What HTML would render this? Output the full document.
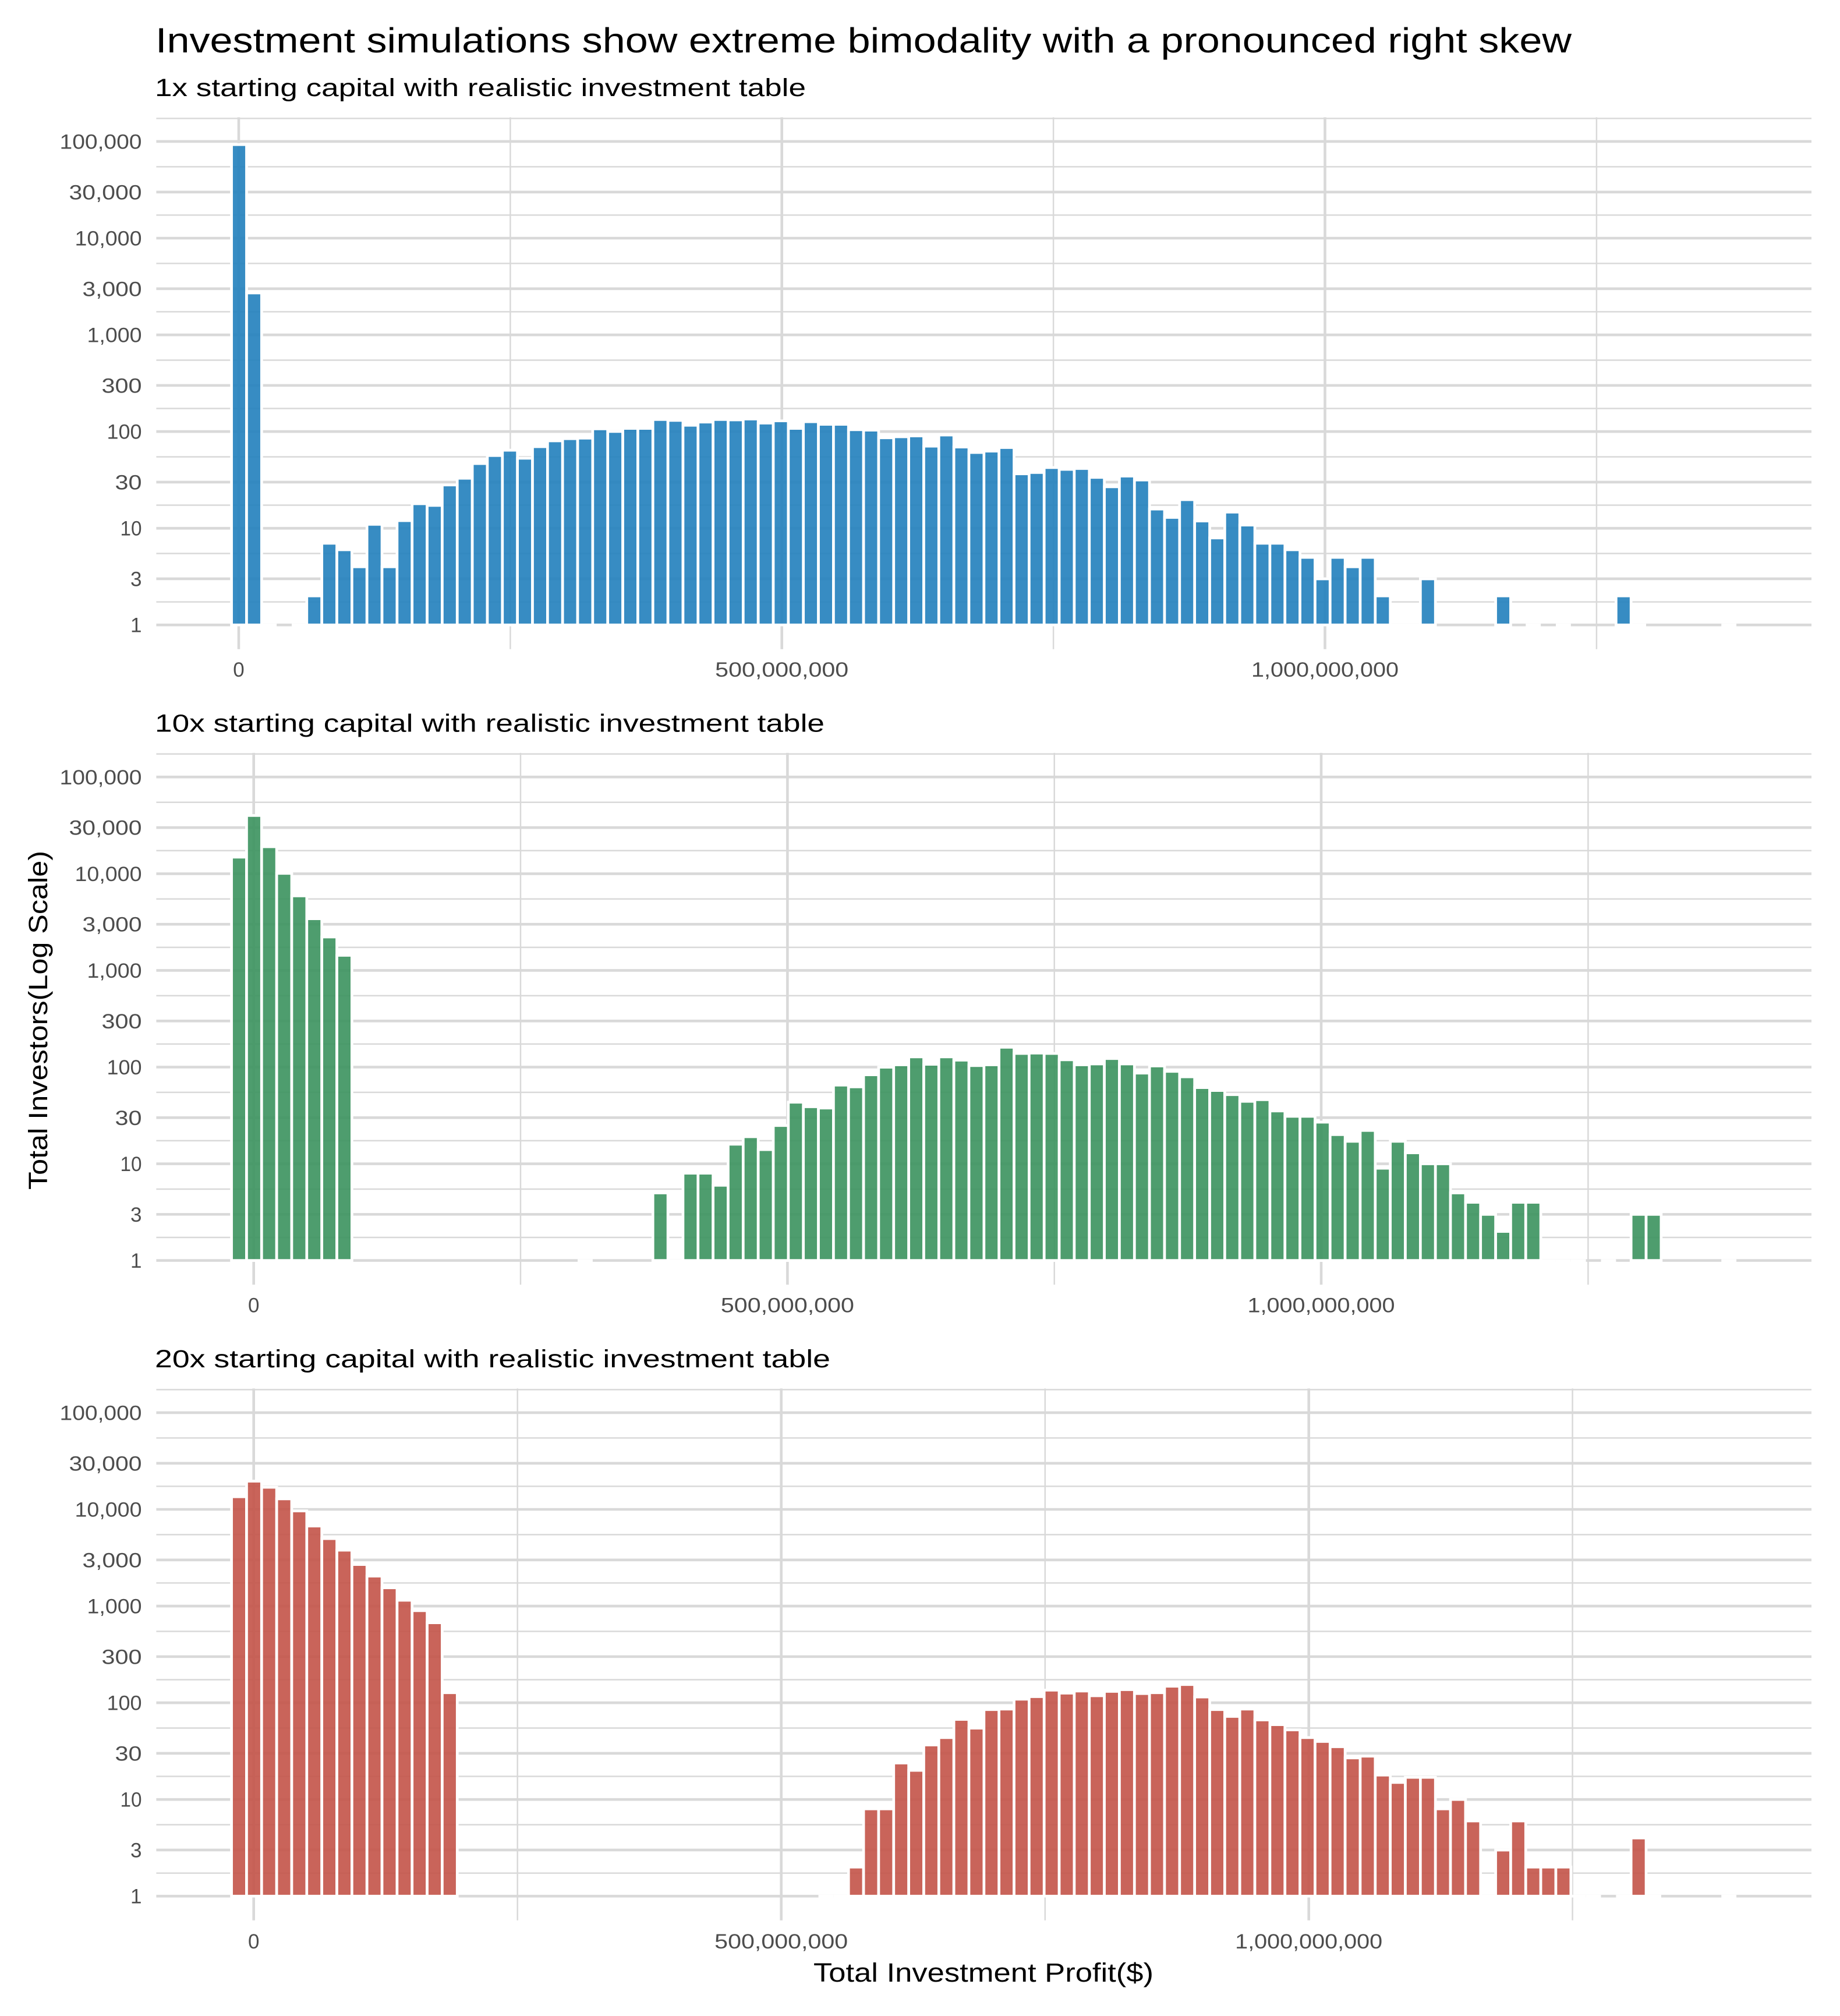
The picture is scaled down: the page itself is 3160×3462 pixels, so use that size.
<!DOCTYPE html>
<html><head><meta charset="utf-8"><style>
html,body{margin:0;padding:0;background:#fff;}
svg{display:block}
text{font-family:"Liberation Sans",Arial,sans-serif}
.tk{fill:#4d4d4d;font-size:35px}
.g line{stroke:#d9d9d9;vector-effect:non-scaling-stroke;stroke-linecap:butt}
.g line.mj{stroke-width:4.6}
.g line.mn{stroke-width:2.5}
.b rect,.b line{stroke:#fff;stroke-width:4.7;vector-effect:non-scaling-stroke}
</style></head><body>
<svg width="3160" height="3462" viewBox="0 0 3160 3462" xmlns="http://www.w3.org/2000/svg">
<rect width="3160" height="3462" fill="#fff"/>
<text x="267" y="90" font-size="60" fill="#000" textLength="2432" lengthAdjust="spacingAndGlyphs">Investment simulations show extreme bimodality with a pronounced right skew</text>

<!-- ================= PANEL 1 ================= -->
<g>
<text x="266" y="165" font-size="43" fill="#000" textLength="1118" lengthAdjust="spacingAndGlyphs">1x starting capital with realistic investment table</text>
<g class="g" transform="translate(0,1073.2) scale(1,-166.05)">
<line class="mn" x1="268.4" x2="3111" y1=".2386" y2=".2386"/><line class="mn" x1="268.4" x2="3111" y1=".7386" y2=".7386"/><line class="mn" x1="268.4" x2="3111" y1="1.2386" y2="1.2386"/><line class="mn" x1="268.4" x2="3111" y1="1.7386" y2="1.7386"/><line class="mn" x1="268.4" x2="3111" y1="2.2386" y2="2.2386"/><line class="mn" x1="268.4" x2="3111" y1="2.7386" y2="2.7386"/><line class="mn" x1="268.4" x2="3111" y1="3.2386" y2="3.2386"/><line class="mn" x1="268.4" x2="3111" y1="3.7386" y2="3.7386"/><line class="mn" x1="268.4" x2="3111" y1="4.2386" y2="4.2386"/><line class="mn" x1="268.4" x2="3111" y1="4.7386" y2="4.7386"/><line class="mn" x1="268.4" x2="3111" y1="5.2386" y2="5.2386"/>
<line class="mj" x1="268.4" x2="3111" y1="0" y2="0"/><line class="mj" x1="268.4" x2="3111" y1=".4771" y2=".4771"/><line class="mj" x1="268.4" x2="3111" y1="1" y2="1"/><line class="mj" x1="268.4" x2="3111" y1="1.4771" y2="1.4771"/><line class="mj" x1="268.4" x2="3111" y1="2" y2="2"/><line class="mj" x1="268.4" x2="3111" y1="2.4771" y2="2.4771"/><line class="mj" x1="268.4" x2="3111" y1="3" y2="3"/><line class="mj" x1="268.4" x2="3111" y1="3.4771" y2="3.4771"/><line class="mj" x1="268.4" x2="3111" y1="4" y2="4"/><line class="mj" x1="268.4" x2="3111" y1="4.4771" y2="4.4771"/><line class="mj" x1="268.4" x2="3111" y1="5" y2="5"/>
<line class="mn" x1="876.4" x2="876.4" y1="-0.25" y2="5.25"/><line class="mn" x1="1809.1" x2="1809.1" y1="-0.25" y2="5.25"/><line class="mn" x1="2741.9" x2="2741.9" y1="-0.25" y2="5.25"/>
<line class="mj" x1="410" x2="410" y1="-0.25" y2="5.25"/><line class="mj" x1="1342.7" x2="1342.7" y1="-0.25" y2="5.25"/><line class="mj" x1="2275.5" x2="2275.5" y1="-0.25" y2="5.25"/>
</g>
<g class="b" fill="#2180BC" fill-opacity="0.9" transform="translate(397.6,1073.2) scale(25.845,-166.05)">
<rect x="0" y="0" width="1" height="4.968"/><rect x="1" y="0" width="1" height="3.434"/>
<line x1="2" x2="3" y1="0" y2="0"/><line x1="4" x2="5" y1="0" y2="0"/>
<rect x="5" y="0" width="1" height="0.301"/><rect x="6" y="0" width="1" height="0.845"/><rect x="7" y="0" width="1" height="0.778"/><rect x="8" y="0" width="1" height="0.602"/><rect x="9" y="0" width="1" height="1.041"/><rect x="10" y="0" width="1" height="0.602"/><rect x="11" y="0" width="1" height="1.079"/><rect x="12" y="0" width="1" height="1.254"/><rect x="13" y="0" width="1" height="1.236"/><rect x="14" y="0" width="1" height="1.448"/><rect x="15" y="0" width="1" height="1.517"/><rect x="16" y="0" width="1" height="1.669"/><rect x="17" y="0" width="1" height="1.752"/><rect x="18" y="0" width="1" height="1.807"/><rect x="19" y="0" width="1" height="1.724"/><rect x="20" y="0" width="1" height="1.844"/><rect x="21" y="0" width="1" height="1.904"/><rect x="22" y="0" width="1" height="1.927"/><rect x="23" y="0" width="1" height="1.932"/><rect x="24" y="0" width="1" height="2.028"/><rect x="25" y="0" width="1" height="2.001"/><rect x="26" y="0" width="1" height="2.033"/><rect x="27" y="0" width="1" height="2.033"/><rect x="28" y="0" width="1" height="2.125"/><rect x="29" y="0" width="1" height="2.116"/><rect x="30" y="0" width="1" height="2.065"/><rect x="31" y="0" width="1" height="2.098"/><rect x="32" y="0" width="1" height="2.125"/><rect x="33" y="0" width="1" height="2.121"/><rect x="34" y="0" width="1" height="2.130"/><rect x="35" y="0" width="1" height="2.088"/><rect x="36" y="0" width="1" height="2.111"/><rect x="37" y="0" width="1" height="2.033"/><rect x="38" y="0" width="1" height="2.102"/><rect x="39" y="0" width="1" height="2.075"/><rect x="40" y="0" width="1" height="2.075"/><rect x="41" y="0" width="1" height="2.019"/><rect x="42" y="0" width="1" height="2.015"/><rect x="43" y="0" width="1" height="1.936"/><rect x="44" y="0" width="1" height="1.946"/><rect x="45" y="0" width="1" height="1.955"/><rect x="46" y="0" width="1" height="1.849"/><rect x="47" y="0" width="1" height="1.964"/><rect x="48" y="0" width="1" height="1.840"/><rect x="49" y="0" width="1" height="1.784"/><rect x="50" y="0" width="1" height="1.798"/><rect x="51" y="0" width="1" height="1.835"/><rect x="52" y="0" width="1" height="1.563"/><rect x="53" y="0" width="1" height="1.577"/><rect x="54" y="0" width="1" height="1.628"/><rect x="55" y="0" width="1" height="1.609"/><rect x="56" y="0" width="1" height="1.618"/><rect x="57" y="0" width="1" height="1.526"/><rect x="58" y="0" width="1" height="1.429"/><rect x="59" y="0" width="1" height="1.540"/><rect x="60" y="0" width="1" height="1.499"/><rect x="61" y="0" width="1" height="1.199"/><rect x="62" y="0" width="1" height="1.112"/><rect x="63" y="0" width="1" height="1.296"/><rect x="64" y="0" width="1" height="1.075"/><rect x="65" y="0" width="1" height="0.900"/><rect x="66" y="0" width="1" height="1.167"/><rect x="67" y="0" width="1" height="1.033"/><rect x="68" y="0" width="1" height="0.845"/><rect x="69" y="0" width="1" height="0.845"/><rect x="70" y="0" width="1" height="0.778"/><rect x="71" y="0" width="1" height="0.699"/><rect x="72" y="0" width="1" height="0.477"/><rect x="73" y="0" width="1" height="0.699"/><rect x="74" y="0" width="1" height="0.602"/><rect x="75" y="0" width="1" height="0.699"/><rect x="76" y="0" width="1" height="0.301"/>
<line x1="77" x2="78" y1="0" y2="0"/><line x1="78" x2="79" y1="0" y2="0"/>
<rect x="79" y="0" width="1" height="0.477"/><rect x="84" y="0" width="1" height="0.301"/>
<line x1="86" x2="87" y1="0" y2="0"/><line x1="88" x2="89" y1="0" y2="0"/>
<rect x="92" y="0" width="1" height="0.301"/>
<line x1="93" x2="94" y1="0" y2="0"/><line x1="99" x2="100" y1="0" y2="0"/>
</g>
<g class="tk" text-anchor="end">
<text x="243.5" y="255.5" textLength="141" lengthAdjust="spacingAndGlyphs">100,000</text>
<text x="243.5" y="342.3" textLength="125" lengthAdjust="spacingAndGlyphs">30,000</text>
<text x="243.5" y="421.5" textLength="115" lengthAdjust="spacingAndGlyphs">10,000</text>
<text x="243.5" y="508.3" textLength="102" lengthAdjust="spacingAndGlyphs">3,000</text>
<text x="243.5" y="587.5" textLength="94" lengthAdjust="spacingAndGlyphs">1,000</text>
<text x="243.5" y="674.4" textLength="69" lengthAdjust="spacingAndGlyphs">300</text>
<text x="243.5" y="753.6" textLength="60" lengthAdjust="spacingAndGlyphs">100</text>
<text x="243.5" y="840.4" textLength="46" lengthAdjust="spacingAndGlyphs">30</text>
<text x="243.5" y="919.6" textLength="37" lengthAdjust="spacingAndGlyphs">10</text>
<text x="243.5" y="1006.5">3</text>
<text x="243.5" y="1085.7">1</text>
</g>
<g class="tk" text-anchor="middle">
<text x="410" y="1162">0</text>
<text x="1342.7" y="1162" textLength="229" lengthAdjust="spacingAndGlyphs">500,000,000</text>
<text x="2275.5" y="1162" textLength="253" lengthAdjust="spacingAndGlyphs">1,000,000,000</text>
</g>
</g>

<!-- ================= PANEL 2 ================= -->
<g transform="translate(0,1091.4)">
<text x="266" y="165" font-size="43" fill="#000" textLength="1150" lengthAdjust="spacingAndGlyphs">10x starting capital with realistic investment table</text>
<g class="g" transform="translate(0,1073.2) scale(1,-166.05)">
<line class="mn" x1="268.4" x2="3111" y1=".2386" y2=".2386"/><line class="mn" x1="268.4" x2="3111" y1=".7386" y2=".7386"/><line class="mn" x1="268.4" x2="3111" y1="1.2386" y2="1.2386"/><line class="mn" x1="268.4" x2="3111" y1="1.7386" y2="1.7386"/><line class="mn" x1="268.4" x2="3111" y1="2.2386" y2="2.2386"/><line class="mn" x1="268.4" x2="3111" y1="2.7386" y2="2.7386"/><line class="mn" x1="268.4" x2="3111" y1="3.2386" y2="3.2386"/><line class="mn" x1="268.4" x2="3111" y1="3.7386" y2="3.7386"/><line class="mn" x1="268.4" x2="3111" y1="4.2386" y2="4.2386"/><line class="mn" x1="268.4" x2="3111" y1="4.7386" y2="4.7386"/><line class="mn" x1="268.4" x2="3111" y1="5.2386" y2="5.2386"/>
<line class="mj" x1="268.4" x2="3111" y1="0" y2="0"/><line class="mj" x1="268.4" x2="3111" y1=".4771" y2=".4771"/><line class="mj" x1="268.4" x2="3111" y1="1" y2="1"/><line class="mj" x1="268.4" x2="3111" y1="1.4771" y2="1.4771"/><line class="mj" x1="268.4" x2="3111" y1="2" y2="2"/><line class="mj" x1="268.4" x2="3111" y1="2.4771" y2="2.4771"/><line class="mj" x1="268.4" x2="3111" y1="3" y2="3"/><line class="mj" x1="268.4" x2="3111" y1="3.4771" y2="3.4771"/><line class="mj" x1="268.4" x2="3111" y1="4" y2="4"/><line class="mj" x1="268.4" x2="3111" y1="4.4771" y2="4.4771"/><line class="mj" x1="268.4" x2="3111" y1="5" y2="5"/>
<line class="mn" x1="894" x2="894" y1="-0.25" y2="5.25"/><line class="mn" x1="1810.7" x2="1810.7" y1="-0.25" y2="5.25"/><line class="mn" x1="2727.4" x2="2727.4" y1="-0.25" y2="5.25"/>
<line class="mj" x1="435.7" x2="435.7" y1="-0.25" y2="5.25"/><line class="mj" x1="1352.4" x2="1352.4" y1="-0.25" y2="5.25"/><line class="mj" x1="2269" x2="2269" y1="-0.25" y2="5.25"/>
</g>
<g class="b" fill="#3B925E" fill-opacity="0.9" transform="translate(397.6,1073.2) scale(25.845,-166.05)">
<rect x="0" y="0" width="1" height="4.172"/><rect x="1" y="0" width="1" height="4.602"/><rect x="2" y="0" width="1" height="4.279"/><rect x="3" y="0" width="1" height="4.004"/><rect x="4" y="0" width="1" height="3.771"/><rect x="5" y="0" width="1" height="3.535"/><rect x="6" y="0" width="1" height="3.346"/><rect x="7" y="0" width="1" height="3.156"/>
<line x1="23" x2="24" y1="0" y2="0"/>
<rect x="28" y="0" width="1" height="0.699"/>
<line x1="29" x2="30" y1="0" y2="0"/>
<rect x="30" y="0" width="1" height="0.903"/><rect x="31" y="0" width="1" height="0.903"/><rect x="32" y="0" width="1" height="0.778"/><rect x="33" y="0" width="1" height="1.203"/><rect x="34" y="0" width="1" height="1.280"/><rect x="35" y="0" width="1" height="1.147"/><rect x="36" y="0" width="1" height="1.396"/><rect x="37" y="0" width="1" height="1.637"/><rect x="38" y="0" width="1" height="1.590"/><rect x="39" y="0" width="1" height="1.577"/><rect x="40" y="0" width="1" height="1.814"/><rect x="41" y="0" width="1" height="1.796"/><rect x="42" y="0" width="1" height="1.921"/><rect x="43" y="0" width="1" height="1.999"/><rect x="44" y="0" width="1" height="2.024"/><rect x="45" y="0" width="1" height="2.106"/><rect x="46" y="0" width="1" height="2.029"/><rect x="47" y="0" width="1" height="2.106"/><rect x="48" y="0" width="1" height="2.072"/><rect x="49" y="0" width="1" height="2.016"/><rect x="50" y="0" width="1" height="2.024"/><rect x="51" y="0" width="1" height="2.205"/><rect x="52" y="0" width="1" height="2.141"/><rect x="53" y="0" width="1" height="2.145"/><rect x="54" y="0" width="1" height="2.141"/><rect x="55" y="0" width="1" height="2.076"/><rect x="56" y="0" width="1" height="2.024"/><rect x="57" y="0" width="1" height="2.033"/><rect x="58" y="0" width="1" height="2.089"/><rect x="59" y="0" width="1" height="2.033"/><rect x="60" y="0" width="1" height="1.938"/><rect x="61" y="0" width="1" height="2.012"/><rect x="62" y="0" width="1" height="1.956"/><rect x="63" y="0" width="1" height="1.900"/><rect x="64" y="0" width="1" height="1.788"/><rect x="65" y="0" width="1" height="1.758"/><rect x="66" y="0" width="1" height="1.715"/><rect x="67" y="0" width="1" height="1.646"/><rect x="68" y="0" width="1" height="1.663"/><rect x="69" y="0" width="1" height="1.547"/><rect x="70" y="0" width="1" height="1.491"/><rect x="71" y="0" width="1" height="1.491"/><rect x="72" y="0" width="1" height="1.431"/><rect x="73" y="0" width="1" height="1.302"/><rect x="74" y="0" width="1" height="1.233"/><rect x="75" y="0" width="1" height="1.345"/><rect x="76" y="0" width="1" height="0.954"/><rect x="77" y="0" width="1" height="1.233"/><rect x="78" y="0" width="1" height="1.114"/><rect x="79" y="0" width="1" height="1.000"/><rect x="80" y="0" width="1" height="1.000"/><rect x="81" y="0" width="1" height="0.699"/><rect x="82" y="0" width="1" height="0.602"/><rect x="83" y="0" width="1" height="0.477"/><rect x="84" y="0" width="1" height="0.301"/><rect x="85" y="0" width="1" height="0.602"/><rect x="86" y="0" width="1" height="0.602"/>
<line x1="87" x2="88" y1="0" y2="0"/><line x1="88" x2="89" y1="0" y2="0"/><line x1="89" x2="90" y1="0" y2="0"/><line x1="91" x2="92" y1="0" y2="0"/>
<rect x="93" y="0" width="1" height="0.477"/><rect x="94" y="0" width="1" height="0.477"/>
<line x1="99" x2="100" y1="0" y2="0"/>
</g>
<g class="tk" text-anchor="end">
<text x="243.5" y="255.5" textLength="141" lengthAdjust="spacingAndGlyphs">100,000</text>
<text x="243.5" y="342.3" textLength="125" lengthAdjust="spacingAndGlyphs">30,000</text>
<text x="243.5" y="421.5" textLength="115" lengthAdjust="spacingAndGlyphs">10,000</text>
<text x="243.5" y="508.3" textLength="102" lengthAdjust="spacingAndGlyphs">3,000</text>
<text x="243.5" y="587.5" textLength="94" lengthAdjust="spacingAndGlyphs">1,000</text>
<text x="243.5" y="674.4" textLength="69" lengthAdjust="spacingAndGlyphs">300</text>
<text x="243.5" y="753.6" textLength="60" lengthAdjust="spacingAndGlyphs">100</text>
<text x="243.5" y="840.4" textLength="46" lengthAdjust="spacingAndGlyphs">30</text>
<text x="243.5" y="919.6" textLength="37" lengthAdjust="spacingAndGlyphs">10</text>
<text x="243.5" y="1006.5">3</text>
<text x="243.5" y="1085.7">1</text>
</g>
<g class="tk" text-anchor="middle">
<text x="435.7" y="1162">0</text>
<text x="1352.4" y="1162" textLength="229" lengthAdjust="spacingAndGlyphs">500,000,000</text>
<text x="2269" y="1162" textLength="253" lengthAdjust="spacingAndGlyphs">1,000,000,000</text>
</g>
</g>

<!-- ================= PANEL 3 ================= -->
<g transform="translate(0,2183)">
<text x="266" y="165" font-size="43" fill="#000" textLength="1160" lengthAdjust="spacingAndGlyphs">20x starting capital with realistic investment table</text>
<g class="g" transform="translate(0,1073.2) scale(1,-166.05)">
<line class="mn" x1="268.4" x2="3111" y1=".2386" y2=".2386"/><line class="mn" x1="268.4" x2="3111" y1=".7386" y2=".7386"/><line class="mn" x1="268.4" x2="3111" y1="1.2386" y2="1.2386"/><line class="mn" x1="268.4" x2="3111" y1="1.7386" y2="1.7386"/><line class="mn" x1="268.4" x2="3111" y1="2.2386" y2="2.2386"/><line class="mn" x1="268.4" x2="3111" y1="2.7386" y2="2.7386"/><line class="mn" x1="268.4" x2="3111" y1="3.2386" y2="3.2386"/><line class="mn" x1="268.4" x2="3111" y1="3.7386" y2="3.7386"/><line class="mn" x1="268.4" x2="3111" y1="4.2386" y2="4.2386"/><line class="mn" x1="268.4" x2="3111" y1="4.7386" y2="4.7386"/><line class="mn" x1="268.4" x2="3111" y1="5.2386" y2="5.2386"/>
<line class="mj" x1="268.4" x2="3111" y1="0" y2="0"/><line class="mj" x1="268.4" x2="3111" y1=".4771" y2=".4771"/><line class="mj" x1="268.4" x2="3111" y1="1" y2="1"/><line class="mj" x1="268.4" x2="3111" y1="1.4771" y2="1.4771"/><line class="mj" x1="268.4" x2="3111" y1="2" y2="2"/><line class="mj" x1="268.4" x2="3111" y1="2.4771" y2="2.4771"/><line class="mj" x1="268.4" x2="3111" y1="3" y2="3"/><line class="mj" x1="268.4" x2="3111" y1="3.4771" y2="3.4771"/><line class="mj" x1="268.4" x2="3111" y1="4" y2="4"/><line class="mj" x1="268.4" x2="3111" y1="4.4771" y2="4.4771"/><line class="mj" x1="268.4" x2="3111" y1="5" y2="5"/>
<line class="mn" x1="888.7" x2="888.7" y1="-0.25" y2="5.25"/><line class="mn" x1="1794.8" x2="1794.8" y1="-0.25" y2="5.25"/><line class="mn" x1="2700.6" x2="2700.6" y1="-0.25" y2="5.25"/>
<line class="mj" x1="435.7" x2="435.7" y1="-0.25" y2="5.25"/><line class="mj" x1="1341.7" x2="1341.7" y1="-0.25" y2="5.25"/><line class="mj" x1="2247.7" x2="2247.7" y1="-0.25" y2="5.25"/>
</g>
<g class="b" fill="#C35348" fill-opacity="0.9" transform="translate(397.6,1073.2) scale(25.845,-166.05)">
<rect x="0" y="0" width="1" height="4.131"/><rect x="1" y="0" width="1" height="4.292"/><rect x="2" y="0" width="1" height="4.229"/><rect x="3" y="0" width="1" height="4.109"/><rect x="4" y="0" width="1" height="3.984"/><rect x="5" y="0" width="1" height="3.828"/><rect x="6" y="0" width="1" height="3.698"/><rect x="7" y="0" width="1" height="3.578"/><rect x="8" y="0" width="1" height="3.430"/><rect x="9" y="0" width="1" height="3.310"/><rect x="10" y="0" width="1" height="3.189"/><rect x="11" y="0" width="1" height="3.060"/><rect x="12" y="0" width="1" height="2.953"/><rect x="13" y="0" width="1" height="2.828"/><rect x="14" y="0" width="1" height="2.104"/>
<line x1="39" x2="40" y1="0" y2="0"/><line x1="40" x2="41" y1="0" y2="0"/>
<rect x="41" y="0" width="1" height="0.301"/><rect x="42" y="0" width="1" height="0.903"/><rect x="43" y="0" width="1" height="0.903"/><rect x="44" y="0" width="1" height="1.377"/><rect x="45" y="0" width="1" height="1.301"/><rect x="46" y="0" width="1" height="1.564"/><rect x="47" y="0" width="1" height="1.640"/><rect x="48" y="0" width="1" height="1.828"/><rect x="49" y="0" width="1" height="1.738"/><rect x="50" y="0" width="1" height="1.930"/><rect x="51" y="0" width="1" height="1.935"/><rect x="52" y="0" width="1" height="2.037"/><rect x="53" y="0" width="1" height="2.064"/><rect x="54" y="0" width="1" height="2.131"/><rect x="55" y="0" width="1" height="2.100"/><rect x="56" y="0" width="1" height="2.122"/><rect x="57" y="0" width="1" height="2.073"/><rect x="58" y="0" width="1" height="2.118"/><rect x="59" y="0" width="1" height="2.136"/><rect x="60" y="0" width="1" height="2.095"/><rect x="61" y="0" width="1" height="2.104"/><rect x="62" y="0" width="1" height="2.171"/><rect x="63" y="0" width="1" height="2.189"/><rect x="64" y="0" width="1" height="2.060"/><rect x="65" y="0" width="1" height="1.930"/><rect x="66" y="0" width="1" height="1.859"/><rect x="67" y="0" width="1" height="1.935"/><rect x="68" y="0" width="1" height="1.823"/><rect x="69" y="0" width="1" height="1.774"/><rect x="70" y="0" width="1" height="1.720"/><rect x="71" y="0" width="1" height="1.640"/><rect x="72" y="0" width="1" height="1.600"/><rect x="73" y="0" width="1" height="1.546"/><rect x="74" y="0" width="1" height="1.430"/><rect x="75" y="0" width="1" height="1.448"/><rect x="76" y="0" width="1" height="1.252"/><rect x="77" y="0" width="1" height="1.176"/><rect x="78" y="0" width="1" height="1.229"/><rect x="79" y="0" width="1" height="1.229"/><rect x="80" y="0" width="1" height="0.903"/><rect x="81" y="0" width="1" height="1.000"/><rect x="82" y="0" width="1" height="0.778"/>
<line x1="83" x2="84" y1="0" y2="0"/>
<rect x="84" y="0" width="1" height="0.477"/><rect x="85" y="0" width="1" height="0.778"/><rect x="86" y="0" width="1" height="0.301"/><rect x="87" y="0" width="1" height="0.301"/><rect x="88" y="0" width="1" height="0.301"/>
<line x1="89" x2="90" y1="0" y2="0"/><line x1="90" x2="91" y1="0" y2="0"/><line x1="92" x2="93" y1="0" y2="0"/>
<rect x="93" y="0" width="1" height="0.602"/>
<line x1="94" x2="95" y1="0" y2="0"/><line x1="99" x2="100" y1="0" y2="0"/>
</g>
<g class="tk" text-anchor="end">
<text x="243.5" y="255.5" textLength="141" lengthAdjust="spacingAndGlyphs">100,000</text>
<text x="243.5" y="342.3" textLength="125" lengthAdjust="spacingAndGlyphs">30,000</text>
<text x="243.5" y="421.5" textLength="115" lengthAdjust="spacingAndGlyphs">10,000</text>
<text x="243.5" y="508.3" textLength="102" lengthAdjust="spacingAndGlyphs">3,000</text>
<text x="243.5" y="587.5" textLength="94" lengthAdjust="spacingAndGlyphs">1,000</text>
<text x="243.5" y="674.4" textLength="69" lengthAdjust="spacingAndGlyphs">300</text>
<text x="243.5" y="753.6" textLength="60" lengthAdjust="spacingAndGlyphs">100</text>
<text x="243.5" y="840.4" textLength="46" lengthAdjust="spacingAndGlyphs">30</text>
<text x="243.5" y="919.6" textLength="37" lengthAdjust="spacingAndGlyphs">10</text>
<text x="243.5" y="1006.5">3</text>
<text x="243.5" y="1085.7">1</text>
</g>
<g class="tk" text-anchor="middle">
<text x="435.7" y="1163">0</text>
<text x="1341.7" y="1163" textLength="229" lengthAdjust="spacingAndGlyphs">500,000,000</text>
<text x="2247.7" y="1163" textLength="253" lengthAdjust="spacingAndGlyphs">1,000,000,000</text>
</g>
</g>

<!-- Axis titles -->
<text x="1689" y="3403" font-size="45" fill="#000" text-anchor="middle" textLength="584" lengthAdjust="spacingAndGlyphs">Total Investment Profit($)</text>
<text transform="translate(81,1752) rotate(-90)" font-size="45" fill="#000" text-anchor="middle" textLength="582" lengthAdjust="spacingAndGlyphs">Total Investors(Log Scale)</text>
</svg>
</body></html>
